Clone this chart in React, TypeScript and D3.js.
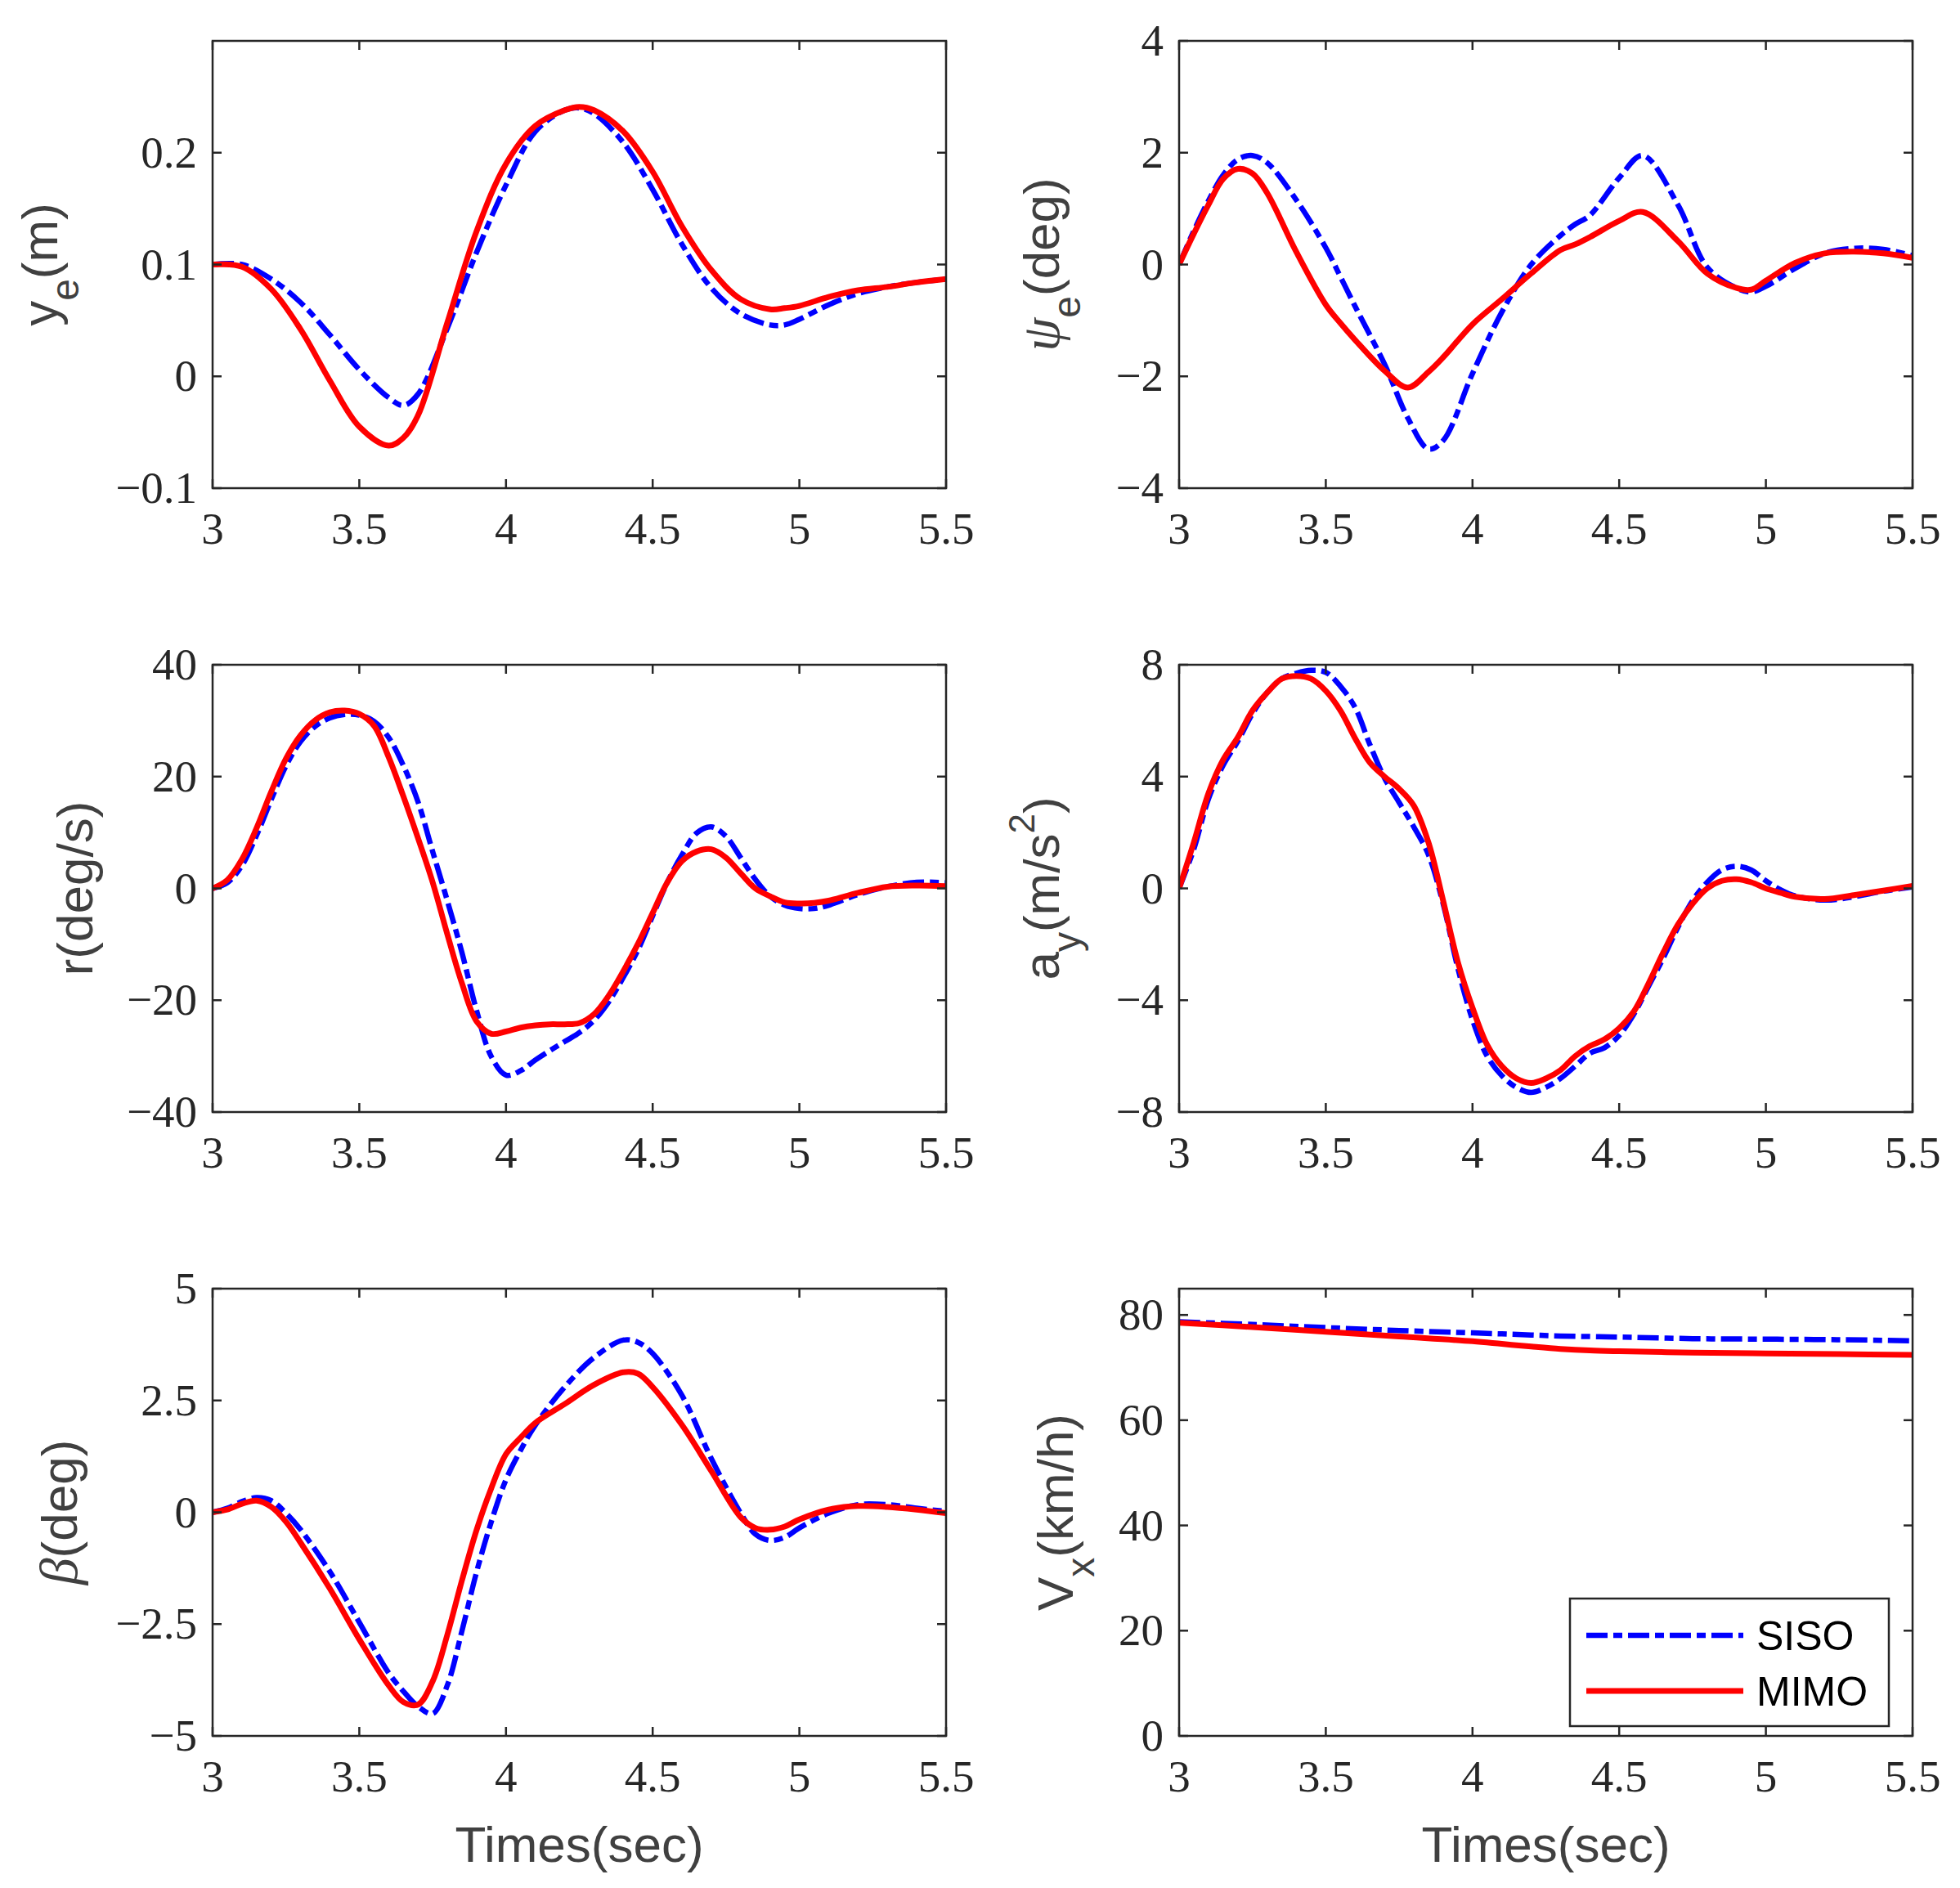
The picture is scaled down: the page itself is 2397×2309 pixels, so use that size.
import React, { useEffect, useRef } from 'react';
import * as d3 from 'd3';

// time axis
const xTicks = [3, 3.5, 4, 4.5, 5, 5.5];

// lateral error y_e (m)
const yeTime = [3, 3.1, 3.2, 3.3, 3.4, 3.5, 3.6, 3.65, 3.7, 3.8, 3.9, 4.0, 4.1, 4.2, 4.25, 4.3, 4.4, 4.5, 4.6, 4.7, 4.8, 4.9, 4.95, 5.0, 5.1, 5.2, 5.3, 5.4, 5.5];
const yeSISO = [0.1, 0.1, 0.087, 0.066, 0.037, 0.006, -0.019, -0.026, -0.016, 0.043, 0.111, 0.171, 0.219, 0.238, 0.24, 0.235, 0.209, 0.167, 0.118, 0.079, 0.056, 0.046, 0.046, 0.051, 0.064, 0.074, 0.08, 0.084, 0.087];
const yeMIMO = [0.1, 0.098, 0.078, 0.042, -0.004, -0.045, -0.062, -0.055, -0.035, 0.048, 0.13, 0.19, 0.224, 0.238, 0.241, 0.238, 0.219, 0.183, 0.134, 0.095, 0.069, 0.06, 0.061, 0.063, 0.071, 0.077, 0.08, 0.084, 0.087];

// heading error psi_e (deg)
const psiTime = [3, 3.05, 3.1, 3.15, 3.2, 3.25, 3.3, 3.4, 3.5, 3.55, 3.6, 3.7, 3.78, 3.85, 3.9, 4.0, 4.1, 4.2, 4.3, 4.35, 4.4, 4.5, 4.58, 4.7, 4.8, 4.9, 4.95, 5.0, 5.1, 5.2, 5.3, 5.4, 5.5];
const psiSISO = [0, 0.6, 1.14, 1.6, 1.88, 1.95, 1.82, 1.15, 0.3, -0.22, -0.75, -1.78, -2.75, -3.3, -3.15, -1.95, -0.85, 0.0, 0.52, 0.72, 0.88, 1.55, 1.95, 1.07, -0.05, -0.42, -0.49, -0.39, -0.07, 0.2, 0.29, 0.27, 0.16];
const psiMIMO = [0, 0.55, 1.07, 1.53, 1.71, 1.63, 1.28, 0.22, -0.72, -1.05, -1.35, -1.9, -2.2, -1.92, -1.66, -1.07, -0.62, -0.16, 0.26, 0.36, 0.49, 0.78, 0.94, 0.42, -0.16, -0.42, -0.45, -0.29, 0.03, 0.2, 0.23, 0.2, 0.12];

// yaw rate r (deg/s) and lateral acceleration a_y share a time grid
const rTime = [3.0, 3.05, 3.1, 3.15, 3.2, 3.25, 3.3, 3.35, 3.4, 3.45, 3.5, 3.55, 3.6, 3.65, 3.7, 3.75, 3.8, 3.85, 3.9, 3.95, 4.0, 4.05, 4.1, 4.15, 4.2, 4.25, 4.3, 4.35, 4.4, 4.45, 4.5, 4.55, 4.6, 4.65, 4.7, 4.75, 4.8, 4.85, 4.9, 4.95, 5.0, 5.05, 5.1, 5.2, 5.3, 5.4, 5.5];
const rSISO = [0, 1.0, 4.1, 9.5, 15.9, 21.9, 26.3, 29.0, 30.5, 31.1, 31.0, 29.9, 27.0, 22.0, 15.5, 6.6, -2.2, -11.5, -21.9, -30.1, -33.4, -32.6, -30.7, -29.0, -27.4, -25.8, -23.6, -20.3, -15.9, -11.0, -4.9, 1.1, 6.0, 9.9, 11.0, 9.3, 5.5, 1.6, -1.4, -3.0, -3.6, -3.6, -3.0, -1.1, 0.3, 1.1, 1.0];
const rMIMO = [0, 1.5, 5.2, 10.8, 17.3, 23.2, 27.4, 30.1, 31.5, 31.8, 31.2, 29.1, 23.5, 16.5, 9.0, 1.1, -8.2, -17.0, -23.8, -26.0, -25.6, -24.9, -24.5, -24.3, -24.3, -24.1, -22.5, -19.2, -14.8, -9.9, -4.4, 1.1, 4.9, 6.6, 7.0, 5.5, 2.7, 0, -1.4, -2.5, -2.7, -2.6, -2.2, -0.8, 0.3, 0.5, 0.4];

const aySISO = [0, 1.4, 3.2, 4.4, 5.26, 6.25, 7.0, 7.5, 7.7, 7.8, 7.73, 7.23, 6.47, 5.15, 3.95, 3.07, 2.2, 1.2, -0.55, -2.85, -4.7, -6.0, -6.7, -7.12, -7.3, -7.12, -6.8, -6.36, -5.9, -5.7, -5.26, -4.5, -3.5, -2.5, -1.4, -0.44, 0.22, 0.66, 0.79, 0.66, 0.27, -0.05, -0.27, -0.42, -0.3, -0.1, 0.05];
const ayMIMO = [0, 1.64, 3.4, 4.6, 5.4, 6.36, 7.0, 7.5, 7.6, 7.5, 7.07, 6.36, 5.37, 4.5, 4.0, 3.56, 2.96, 1.64, -0.44, -2.63, -4.27, -5.6, -6.36, -6.8, -6.96, -6.8, -6.5, -6.0, -5.64, -5.4, -5.0, -4.4, -3.4, -2.3, -1.3, -0.55, 0, 0.27, 0.33, 0.22, 0, -0.16, -0.3, -0.38, -0.24, -0.08, 0.09];

// sideslip beta (deg)
const betaTime = [3.0, 3.05, 3.1, 3.15, 3.2, 3.25, 3.3, 3.4, 3.5, 3.6, 3.65, 3.7, 3.75, 3.8, 3.85, 3.9, 3.95, 4.0, 4.05, 4.1, 4.2, 4.3, 4.4, 4.45, 4.5, 4.6, 4.7, 4.8, 4.85, 4.9, 4.95, 5.0, 5.1, 5.2, 5.3, 5.4, 5.5];
const betaSISO = [0, 0.09, 0.24, 0.33, 0.26, -0.02, -0.39, -1.33, -2.46, -3.59, -4.0, -4.34, -4.5, -3.87, -2.65, -1.33, -0.21, 0.73, 1.39, 1.95, 2.8, 3.46, 3.85, 3.8, 3.55, 2.61, 1.2, -0.02, -0.49, -0.63, -0.56, -0.35, -0.02, 0.17, 0.17, 0.09, 0.02];
const betaMIMO = [0, 0.06, 0.19, 0.26, 0.12, -0.21, -0.68, -1.71, -2.84, -3.87, -4.24, -4.3, -3.78, -2.74, -1.52, -0.39, 0.54, 1.3, 1.67, 2.0, 2.42, 2.85, 3.13, 3.1, 2.8, 1.95, 0.92, -0.11, -0.35, -0.39, -0.32, -0.16, 0.06, 0.14, 0.12, 0.06, -0.02];

// longitudinal speed V_x (km/h)
const vxTime = [3, 3.25, 3.5, 3.75, 4, 4.1, 4.2, 4.3, 4.4, 4.5, 4.75, 5, 5.25, 5.5];
const vxSISO = [78.7, 78.2, 77.6, 77.05, 76.6, 76.4, 76.2, 76.0, 75.9, 75.8, 75.5, 75.4, 75.3, 75.1];
const vxMIMO = [78.5, 77.7, 76.8, 75.9, 75.0, 74.5, 74.0, 73.55, 73.25, 73.1, 72.85, 72.7, 72.55, 72.4];

const seriesNames = ['SISO', 'MIMO'];

type Part = { t: string; k?: 'sub' | 'sup' | 'greek' };

interface Panel {
  col: number;
  row: number;
  yDomain: [number, number];
  yTicks: number[];
  time: number[];
  siso: number[];
  mimo: number[];
  label: Part[];
  labelX: number;
}

const panels: Panel[] = [
  { col: 0, row: 0, yDomain: [-0.1, 0.3], yTicks: [-0.1, 0, 0.1, 0.2], time: yeTime, siso: yeSISO, mimo: yeMIMO,
    label: [{ t: 'y' }, { t: 'e', k: 'sub' }, { t: '(m)' }], labelX: 70 },
  { col: 1, row: 0, yDomain: [-4, 4], yTicks: [-4, -2, 0, 2, 4], time: psiTime, siso: psiSISO, mimo: psiMIMO,
    label: [{ t: 'ψ', k: 'greek' }, { t: 'e', k: 'sub' }, { t: '(deg)' }], labelX: 1295 },
  { col: 0, row: 1, yDomain: [-40, 40], yTicks: [-40, -20, 0, 20, 40], time: rTime, siso: rSISO, mimo: rMIMO,
    label: [{ t: 'r(deg/s)' }], labelX: 113 },
  { col: 1, row: 1, yDomain: [-8, 8], yTicks: [-8, -4, 0, 4, 8], time: rTime, siso: aySISO, mimo: ayMIMO,
    label: [{ t: 'a' }, { t: 'y', k: 'sub' }, { t: '(m/s' }, { t: '2', k: 'sup' }, { t: ')' }], labelX: 1295 },
  { col: 0, row: 2, yDomain: [-5, 5], yTicks: [-5, -2.5, 0, 2.5, 5], time: betaTime, siso: betaSISO, mimo: betaMIMO,
    label: [{ t: 'β', k: 'greek' }, { t: '(deg)' }], labelX: 94 },
  { col: 1, row: 2, yDomain: [0, 85], yTicks: [0, 20, 40, 60, 80], time: vxTime, siso: vxSISO, mimo: vxMIMO,
    label: [{ t: 'V' }, { t: 'x', k: 'sub' }, { t: '(km/h)' }], labelX: 1312 },
];

const W = 2397;
const H = 2309;
const colLeft = [260, 1442];
const rowTop = [50, 813, 1576];
const PW = 897;
const PH = 547;
const AXIS = '#262626';
const LABEL = '#404040';
const SERIF = '"Liberation Serif", "Times New Roman", serif';
const SANS = '"Liberation Sans", Arial, Helvetica, sans-serif';

const fmt = (v: number) => (v < 0 ? '\u2212' : '') + String(Math.abs(v));

export default function App() {
  const svgRef = useRef<SVGSVGElement>(null);

  useEffect(() => {
    if (!svgRef.current) return;
    const svg = d3.select(svgRef.current);
    svg.selectAll('*').remove();

    svg.append('rect').attr('width', W).attr('height', H).attr('fill', '#ffffff');

    panels.forEach((p, i) => {
      const left = colLeft[p.col];
      const top = rowTop[p.row];
      const g = svg.append('g').attr('transform', `translate(${left},${top})`);

      const x = d3.scaleLinear().domain([3, 5.5]).range([0, PW]);
      const y = d3.scaleLinear().domain(p.yDomain).range([PH, 0]);

      const clipId = `clip-${i}`;
      g.append('clipPath').attr('id', clipId)
        .append('rect').attr('width', PW).attr('height', PH);

      const line = d3.line<number>()
        .x((_d, j) => x(p.time[j]))
        .y(d => y(d))
        .curve(d3.curveCatmullRom.alpha(0.5));

      const plot = g.append('g').attr('clip-path', `url(#${clipId})`);
      plot.append('path')
        .attr('d', line(p.siso) || '')
        .attr('fill', 'none')
        .attr('stroke', '#0000ff')
        .attr('stroke-width', 6.5)
        .attr('stroke-dasharray', '26,7,11,7');
      plot.append('path')
        .attr('d', line(p.mimo) || '')
        .attr('fill', 'none')
        .attr('stroke', '#ff0000')
        .attr('stroke-width', 7);

      // box
      g.append('rect')
        .attr('width', PW).attr('height', PH)
        .attr('fill', 'none')
        .attr('stroke', AXIS)
        .attr('stroke-width', 2.5);

      const tl = 11;
      xTicks.forEach(t => {
        const xx = x(t);
        g.append('line').attr('x1', xx).attr('x2', xx).attr('y1', PH).attr('y2', PH - tl)
          .attr('stroke', AXIS).attr('stroke-width', 2.5);
        g.append('line').attr('x1', xx).attr('x2', xx).attr('y1', 0).attr('y2', tl)
          .attr('stroke', AXIS).attr('stroke-width', 2.5);
        g.append('text')
          .attr('x', xx).attr('y', PH + 68)
          .attr('text-anchor', 'middle')
          .style('font-family', SERIF).style('font-size', '55px')
          .attr('fill', AXIS)
          .text(fmt(t));
      });

      p.yTicks.forEach(t => {
        const yy = y(t);
        g.append('line').attr('x1', 0).attr('x2', tl).attr('y1', yy).attr('y2', yy)
          .attr('stroke', AXIS).attr('stroke-width', 2.5);
        g.append('line').attr('x1', PW).attr('x2', PW - tl).attr('y1', yy).attr('y2', yy)
          .attr('stroke', AXIS).attr('stroke-width', 2.5);
        g.append('text')
          .attr('x', -19).attr('y', yy + 18)
          .attr('text-anchor', 'end')
          .style('font-family', SERIF).style('font-size', '55px')
          .attr('fill', AXIS)
          .text(fmt(t));
      });

      // y label, rotated
      const lbl = svg.append('text')
        .attr('transform', `translate(${p.labelX},${top + PH / 2}) rotate(-90)`)
        .attr('text-anchor', 'middle')
        .style('font-family', SANS).style('font-size', '62px')
        .attr('fill', LABEL);
      let shift = 0;
      p.label.forEach(part => {
        const ts = lbl.append('tspan').text(part.t);
        let target = 0;
        if (part.k === 'sub') { target = 26; ts.style('font-size', '48px'); }
        if (part.k === 'sup') { target = -30; ts.style('font-size', '44px'); }
        if (part.k === 'greek') ts.style('font-family', SERIF).style('font-style', 'italic').style('font-size', '66px');
        if (target !== shift) ts.attr('dy', target - shift);
        shift = target;
      });

      if (p.row === 2) {
        svg.append('text')
          .attr('x', left + PW / 2).attr('y', 2277)
          .attr('text-anchor', 'middle')
          .style('font-family', SANS).style('font-size', '62px')
          .attr('fill', LABEL)
          .text('Times(sec)');
      }

      if (p.col === 1 && p.row === 2) {
        const lg = svg.append('g');
        lg.append('rect')
          .attr('x', 1920).attr('y', 1955).attr('width', 390).attr('height', 156)
          .attr('fill', '#ffffff').attr('stroke', AXIS).attr('stroke-width', 2.5);
        seriesNames.forEach((name, k) => {
          const ly = 2000 + k * 68;
          lg.append('line')
            .attr('x1', 1940).attr('x2', 2132).attr('y1', ly).attr('y2', ly)
            .attr('stroke', k === 0 ? '#0000ff' : '#ff0000')
            .attr('stroke-width', k === 0 ? 6.5 : 7)
            .attr('stroke-dasharray', k === 0 ? '26,7,11,7' : null);
          lg.append('text')
            .attr('x', 2148).attr('y', ly + 18)
            .style('font-family', SANS).style('font-size', '50px')
            .attr('fill', '#000000')
            .text(name);
        });
      }
    });
  }, []);

  return (
    <div style={{ position: 'absolute', left: 0, top: 0 }}>
      <svg ref={svgRef} width={W} height={H} style={{ display: 'block' }} />
    </div>
  );
}
